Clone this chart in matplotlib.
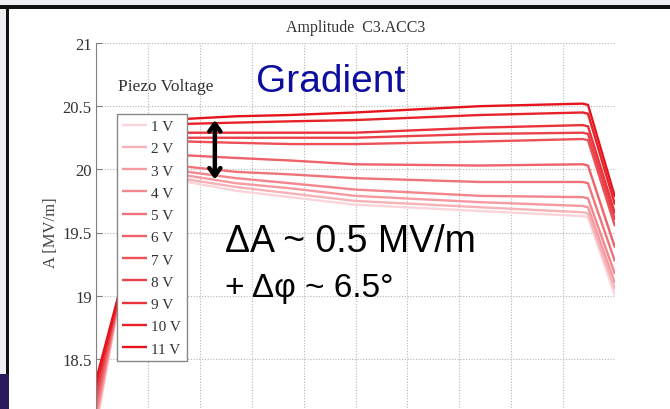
import matplotlib
matplotlib.use("Agg")
import matplotlib.pyplot as plt
from matplotlib.patches import Rectangle
import numpy as np

# ---------------- data ----------------
title = "Amplitude  C3.ACC3"
ylabel = "A [MV/m]"
legend_title = "Piezo Voltage"
voltages = ["1 V", "2 V", "3 V", "4 V", "5 V", "6 V", "7 V", "8 V", "9 V", "10 V", "11 V"]

# time axis sample points (arbitrary units, 10 grid divisions)
t = [0.0, 0.4, 1.3, 1.77, 2.7, 3.74, 4.99, 7.40, 9.38, 9.48, 10.0]

amp_1V  = [17.95, 18.86, 19.96, 19.90, 19.83, 19.78, 19.72, 19.67, 19.63, 19.62, 19.00]
amp_2V  = [17.99, 18.87, 19.97, 19.92, 19.86, 19.81, 19.75, 19.70, 19.66, 19.65, 19.05]
amp_3V  = [18.03, 18.88, 20.00, 19.95, 19.89, 19.85, 19.79, 19.74, 19.71, 19.70, 19.10]
amp_4V  = [18.07, 18.89, 20.03, 19.98, 19.93, 19.89, 19.84, 19.79, 19.78, 19.77, 19.17]
amp_5V  = [18.11, 18.90, 20.06, 20.02, 19.98, 19.96, 19.93, 19.90, 19.90, 19.89, 19.27]
amp_6V  = [18.15, 18.91, 20.14, 20.11, 20.09, 20.07, 20.04, 20.03, 20.04, 20.03, 19.38]
amp_7V  = [18.19, 18.92, 20.22, 20.22, 20.21, 20.20, 20.20, 20.22, 20.24, 20.23, 19.55]
amp_8V  = [18.23, 18.93, 20.25, 20.25, 20.25, 20.25, 20.25, 20.28, 20.29, 20.28, 19.60]
amp_9V  = [18.27, 18.93, 20.28, 20.29, 20.29, 20.29, 20.29, 20.33, 20.35, 20.34, 19.65]
amp_10V = [18.30, 18.94, 20.35, 20.36, 20.37, 20.38, 20.39, 20.43, 20.45, 20.44, 19.72]
amp_11V = [18.33, 18.95, 20.38, 20.40, 20.42, 20.43, 20.45, 20.50, 20.52, 20.51, 19.78]

curves = [amp_1V, amp_2V, amp_3V, amp_4V, amp_5V, amp_6V, amp_7V,
          amp_8V, amp_9V, amp_10V, amp_11V]

yticks = [18.5, 19, 19.5, 20, 20.5, 21]
yticklabels = ["18.5", "19", "19.5", "20", "20.5", "21"]
xticks = list(range(0, 11))

# ---------------- figure ----------------
W, H = 670, 410
fig = plt.figure(figsize=(W / 100, H / 100), dpi=100)
fig.patch.set_facecolor("white")

serif = ["Liberation Serif", "DejaVu Serif"]
sans = ["Liberation Sans", "DejaVu Sans"]

# slide frame decorations
def fpx(x, y, w, h, color):
    fig.patches.append(Rectangle((x / W, 1 - (y + h) / H), w / W, h / H,
                                 transform=fig.transFigure, color=color,
                                 zorder=0, lw=0))

fpx(0, 0, W, 6, "#eeeef3")
fpx(0, 6, 6, 369, "#eeeef3")
fpx(0, 6, W, 3.5, "#111111")
fpx(6, 6, 3, 369, "#111111")
fpx(0, 375, 9, 35, "#2b1a5c")

ax = fig.add_axes([96 / W, 1 - 423 / H, 519 / W, 379 / H])
ax.set_xlim(0, 10)
ax.set_ylim(18, 21)

c0 = np.array([0.985, 0.83, 0.85])
c1 = np.array([0.90, 0.08, 0.11])
n = len(curves)
for i, (lab, amp) in enumerate(zip(voltages, curves)):
    f = (i / (n - 1)) ** 0.75
    col = c0 + (c1 - c0) * f
    ax.plot(t, amp, color=col, lw=1.7, label=lab, solid_capstyle="butt")

ax.set_yticks(yticks)
ax.set_yticklabels(yticklabels)
ax.set_xticks(xticks)
ax.set_xticklabels([])
ax.grid(True, linestyle=(0, (1, 1.5)), color="#b5b5b5", lw=0.8)
for s in ["top", "right"]:
    ax.spines[s].set_visible(False)
ax.spines["left"].set_color("#808080")
ax.spines["bottom"].set_color("#808080")
ax.tick_params(direction="in", length=4, color="#808080", labelcolor="#333333",
               labelsize=12, pad=3)
for lbl in ax.get_yticklabels():
    lbl.set_family(serif)

ax.set_title(title, fontsize=11.5, family=serif, color="#333333", pad=9)
fig.text(51 / W, 1 - 233 / H, ylabel, rotation=90, ha="center", va="center",
         fontsize=12, family=serif, color="#444444")

leg = ax.legend(loc="upper left", bbox_to_anchor=(117 / W, 1 - 115 / H),
                bbox_transform=fig.transFigure, borderaxespad=0,
                prop={"family": serif, "size": 11}, fancybox=False,
                framealpha=1, edgecolor="#888888", handlelength=1.6,
                handletextpad=0.3, labelspacing=0.56, borderpad=0.35)
leg.get_frame().set_linewidth(1.0)
for txt in leg.get_texts():
    txt.set_color("#333333")

fig.text(118 / W, 1 - 91 / H, legend_title, fontsize=12.5, family=serif,
         color="#333333", ha="left", va="baseline")

# annotations
ax.text(3.08, 20.62, "Gradient", fontsize=28, family=sans, color="#0d0d9e",
        ha="left", va="baseline")
ax.text(2.49, 19.354, "\u0394A ~ 0.5 MV/m", fontsize=27, family=sans,
        color="black", ha="left", va="baseline")
ax.text(2.49, 18.998, "+ \u0394\u03c6 ~ 6.5\u00b0", fontsize=24, family=sans,
        color="black", ha="left", va="baseline")
ax.annotate("", xy=(2.29, 20.39), xytext=(2.29, 19.92),
            arrowprops=dict(arrowstyle="<->,head_length=0.55,head_width=0.4",
                            color="black", lw=3.2, shrinkA=0, shrinkB=0))

fig.savefig("out.png", dpi=100)
